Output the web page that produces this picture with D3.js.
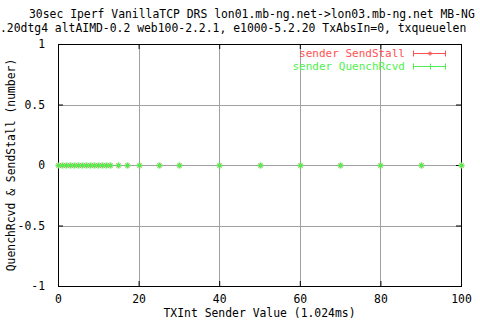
<!DOCTYPE html>
<html>
<head>
<meta charset="utf-8">
<script src="https://d3js.org/d3.v7.min.js"></script>
<style>
  body { margin: 0; background: #fff; }
  text { font-family: "DejaVu Sans Mono", monospace; font-size: 11.4px; }
</style>
</head>
<body>
<svg width="480" height="320"></svg>
<script>
// data
var txInt = [0, 1, 2, 3, 4, 5, 6, 7, 8, 9, 10, 11, 12, 13, 15, 17, 20, 25, 30, 40, 50, 60, 70, 80, 90, 100];
var sendStall = [0, 0, 0, 0, 0, 0, 0, 0, 0, 0, 0, 0, 0, 0, 0, 0, 0, 0, 0, 0, 0, 0, 0, 0, 0, 0];
var quenchRcvd = [0, 0, 0, 0, 0, 0, 0, 0, 0, 0, 0, 0, 0, 0, 0, 0, 0, 0, 0, 0, 0, 0, 0, 0, 0, 0];
var xTicks = [0, 20, 40, 60, 80, 100];
var yTicks = [-1, -0.5, 0, 0.5, 1];
var titleLines = [
    '30sec Iperf VanillaTCP DRS lon01.mb-ng.net->lon03.mb-ng.net MB-NG',
    '.20dtg4 altAIMD-0.2 web100-2.2.1, e1000-5.2.20 TxAbsIn=0, txqueuelen'
];

var red = '#ff5050', green = '#50f050';
var svg = d3.select('svg');
var pLeft = 58, pRight = 461, pTop = 44, pBottom = 286;

var x = d3.scaleLinear().domain([0, 100]).range([pLeft, pRight]);
var y = d3.scaleLinear().domain([-1, 1]).range([pBottom, pTop]);

// grid
svg.append('g').selectAll('line')
    .data(xTicks.slice(1, -1))
    .enter().append('line')
    .attr('x1', function(d) { return Math.round(x(d)) + 0.5; })
    .attr('x2', function(d) { return Math.round(x(d)) + 0.5; })
    .attr('y1', pTop).attr('y2', pBottom)
    .attr('stroke', '#a0a0a0');
svg.append('g').selectAll('line')
    .data(yTicks.slice(1, -1))
    .enter().append('line')
    .attr('y1', function(d) { return Math.round(y(d)) + 0.5; })
    .attr('y2', function(d) { return Math.round(y(d)) + 0.5; })
    .attr('x1', pLeft).attr('x2', pRight)
    .attr('stroke', '#a0a0a0');

// axes (ticks inward, labels outside)
var xAxis = svg.append('g')
    .attr('transform', 'translate(0,' + pBottom + ')')
    .call(d3.axisBottom(x).tickValues(xTicks).tickSize(-5).tickPadding(9).tickFormat(d3.format('d')));
var xAxisTop = svg.append('g')
    .attr('transform', 'translate(0,' + pTop + ')')
    .call(d3.axisTop(x).tickValues(xTicks).tickSize(-5).tickFormat(''));
var yAxis = svg.append('g')
    .attr('transform', 'translate(' + pLeft + ',0)')
    .call(d3.axisLeft(y).tickValues(yTicks).tickSize(-5).tickPadding(13)
        .tickFormat(function(d) { return String(d); }));
var yAxisRight = svg.append('g')
    .attr('transform', 'translate(' + pRight + ',0)')
    .call(d3.axisRight(y).tickValues(yTicks).tickSize(-5).tickFormat(''));

[xAxis, xAxisTop, yAxis, yAxisRight].forEach(function(g) {
    g.select('.domain').remove();
    g.selectAll('line').attr('stroke', '#000');
    g.selectAll('text').attr('fill', '#000')
        .style('font-family', '"DejaVu Sans Mono", monospace').style('font-size', '11.4px');
});

svg.append('rect')
    .attr('x', pLeft + 0.5).attr('y', pTop + 0.5)
    .attr('width', pRight - pLeft).attr('height', pBottom - pTop)
    .attr('fill', 'none').attr('stroke', '#000');

// points: SendStall under, QuenchRcvd on top
svg.append('g').selectAll('path')
    .data(txInt)
    .enter().append('path')
    .attr('d', function(d, i) {
        var cx = Math.round(x(d)) + 0.5, cy = Math.round(y(sendStall[i])) + 0.5;
        return 'M' + (cx - 2) + ',' + (cy - 2) + 'L' + (cx + 2) + ',' + (cy + 2) +
               'M' + (cx - 2) + ',' + (cy + 2) + 'L' + (cx + 2) + ',' + (cy - 2);
    })
    .attr('stroke', red).attr('fill', 'none');
svg.append('g').selectAll('path')
    .data(txInt)
    .enter().append('path')
    .attr('d', function(d, i) {
        var cx = Math.round(x(d)) + 0.5, cy = Math.round(y(quenchRcvd[i])) + 0.5;
        return 'M' + (cx - 3) + ',' + cy + 'L' + (cx + 3) + ',' + cy +
               'M' + cx + ',' + (cy - 3) + 'L' + cx + ',' + (cy + 3);
    })
    .attr('stroke', green).attr('stroke-width', 2).attr('fill', 'none');

// legend
var legend = [
    { name: 'sender SendStall', color: red, y: 53 },
    { name: 'sender QuenchRcvd', color: green, y: 66 }
];
var lg = svg.append('g').selectAll('g').data(legend).enter().append('g');
lg.append('text')
    .attr('x', 405).attr('y', function(d) { return d.y + 4; })
    .attr('text-anchor', 'end')
    .style('font-size', '11px')
    .attr('fill', function(d) { return d.color; })
    .text(function(d) { return d.name; });
lg.append('path')
    .attr('d', function(d) {
        var yy = d.y + 0.5;
        return 'M413,' + yy + 'L446,' + yy + 'M413.5,' + (yy - 3) + 'L413.5,' + (yy + 3) +
               'M445.5,' + (yy - 3) + 'L445.5,' + (yy + 3);
    })
    .attr('stroke', function(d) { return d.color; }).attr('fill', 'none');
lg.filter(function(d, i) { return i === 0; }).append('circle')
    .attr('cx', 430).attr('cy', 53.5).attr('r', 1.5)
    .attr('fill', 'none').attr('stroke', red);
lg.filter(function(d, i) { return i === 1; }).append('path')
    .attr('d', 'M430.5,63.5L430.5,69.5')
    .attr('stroke', green);

// titles
svg.append('text').attr('x', 29).attr('y', 18).text(titleLines[0]);
svg.append('text').attr('x', 0).attr('y', 31.5).text(titleLines[1]);

svg.append('text')
    .attr('x', (pLeft + pRight) / 2).attr('y', 317)
    .attr('text-anchor', 'middle')
    .text('TXInt Sender Value (1.024ms)');

svg.append('text')
    .attr('transform', 'translate(15,' + ((pTop + pBottom) / 2) + ') rotate(-90)')
    .attr('text-anchor', 'middle')
    .text('QuenchRcvd & SendStall (number)');
</script>
</body>
</html>
